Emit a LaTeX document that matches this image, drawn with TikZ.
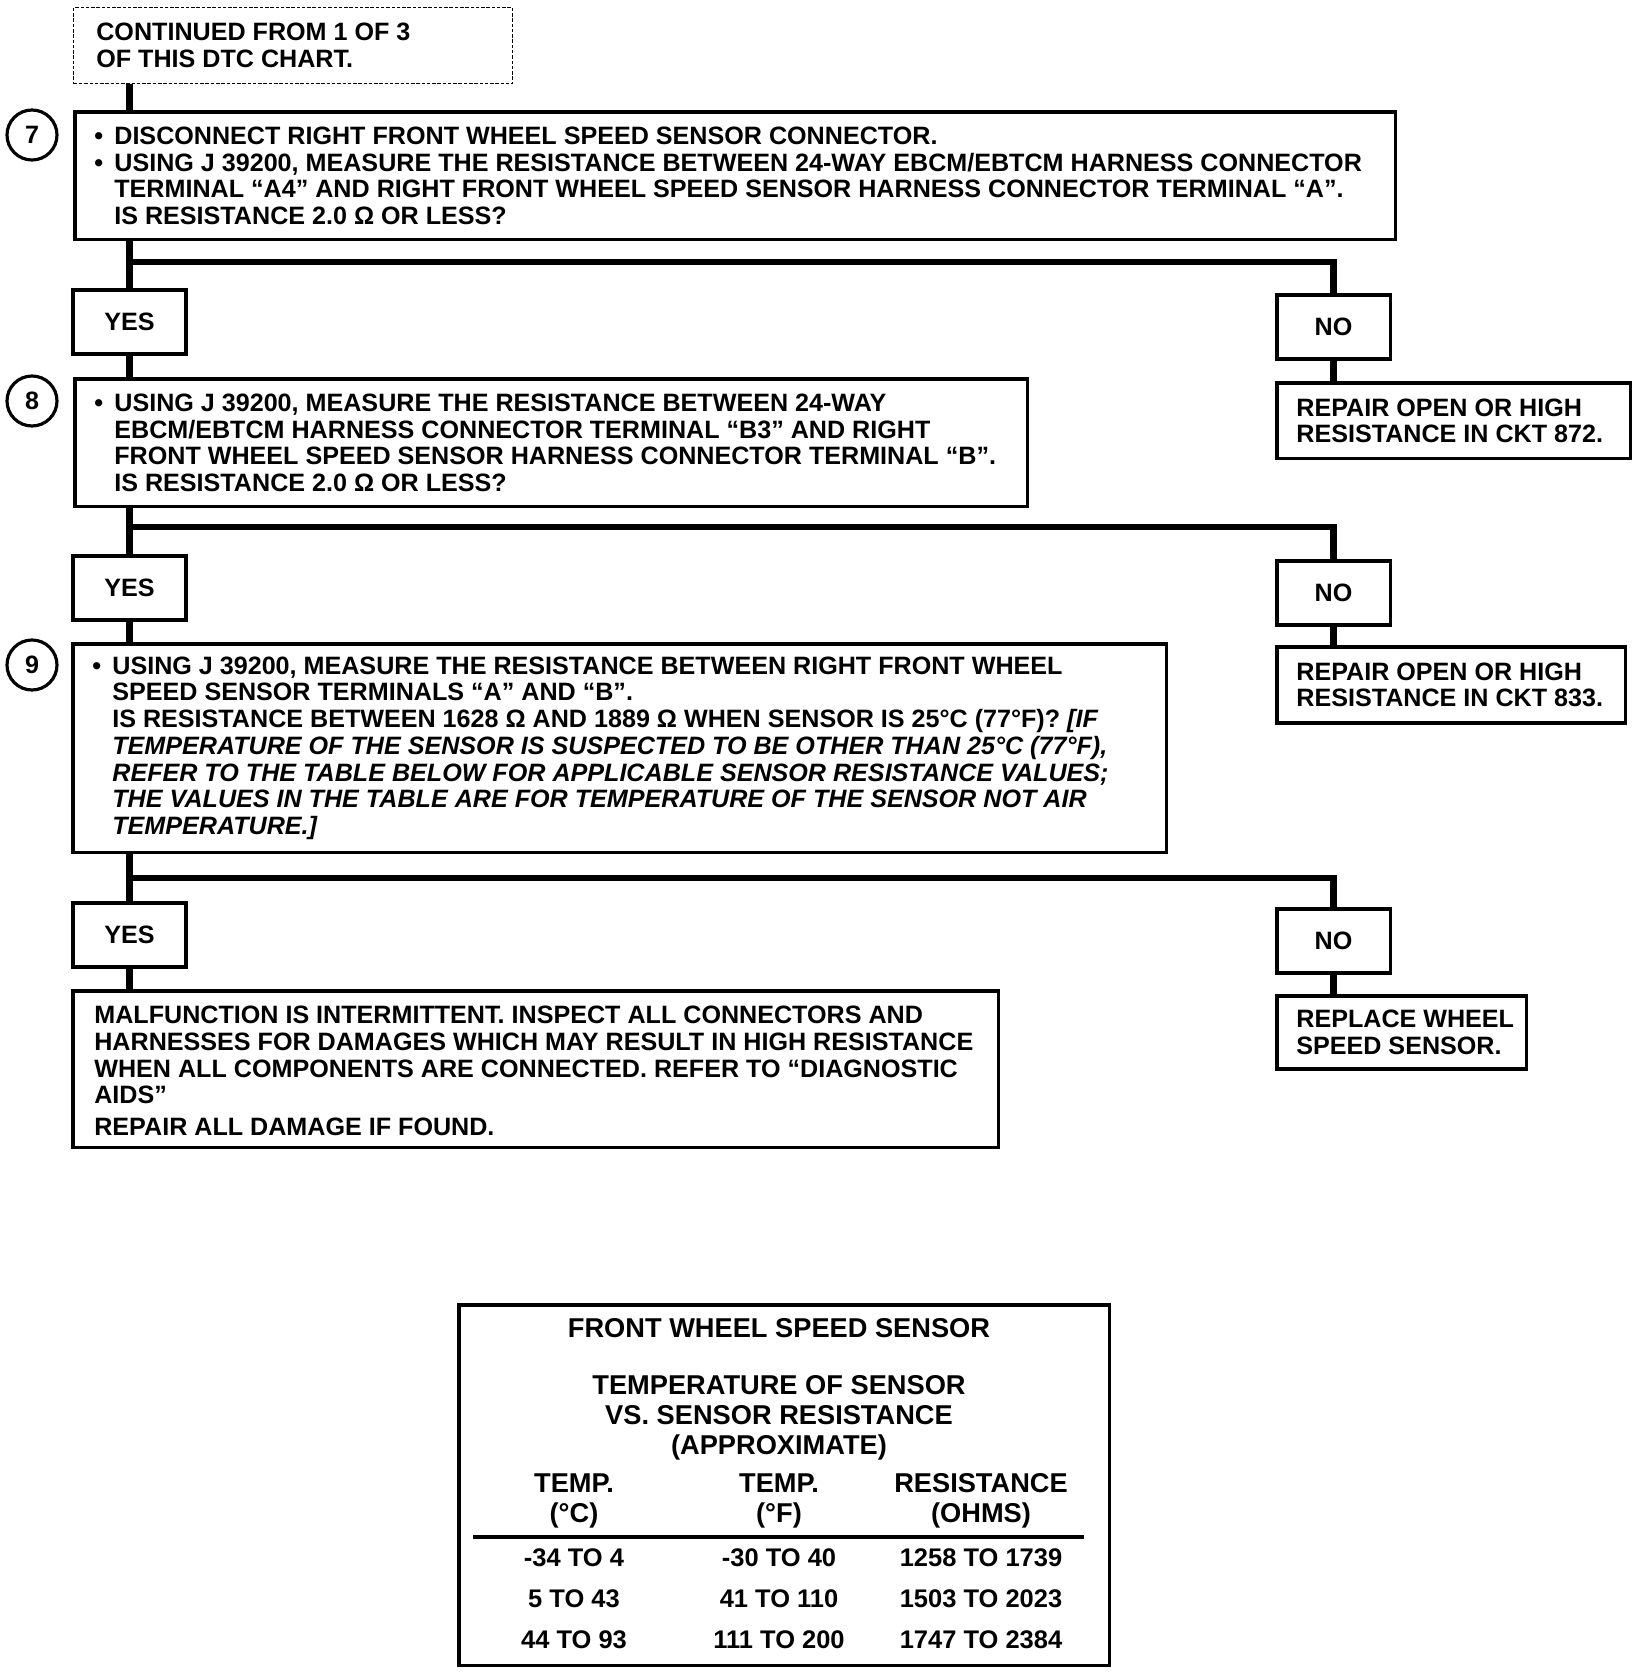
\documentclass[tikz,border=0pt]{standalone}
\usepackage{fontspec}
\setmainfont{Liberation Sans}
\usetikzlibrary{positioning}

\newcommand{\bul}{\makebox[11.4pt][l]{•}}
\newcommand{\indnt}{\hspace*{11.4pt}}

\begin{document}
\begin{tikzpicture}[
  x=0.02cm, y=-0.02cm,
  every node/.style={font=\fontsize{14.3}{15.2}\selectfont\bfseries},
  box/.style={draw,line width=2pt,anchor=north west,inner sep=0pt},
  txt/.style={anchor=west,align=left,inner sep=0pt},
  ans/.style={draw,line width=2pt,anchor=north west,minimum width=2.27cm,minimum height=1.28cm,inner sep=0pt},
  stepno/.style={circle,draw,line width=1.8pt,minimum size=1cm,inner sep=0pt},
  link/.style={line width=3.6pt},
  head/.style={font=\fontsize{15.5}{17}\selectfont\bfseries,align=center},
  cell/.style={font=\fontsize{14.5}{17}\selectfont\bfseries}
]
  \useasboundingbox (0,0) rectangle (1648,1672);

  % step 7
  \node[box,dash pattern=on 2pt off 1pt,line width=0.8pt,minimum width=8.78cm,minimum height=1.52cm] (cont) at (73,7) {};
  \node[txt] (cont-t) at ([xshift=0.46cm]cont.west) {CONTINUED FROM 1 OF 3\\OF THIS DTC CHART.};
  \node[stepno] (s7) at (32,135) {7};
  \node[box,minimum width=26.42cm,minimum height=2.56cm] (chk7) at (73,110) {};
  \node[txt] (chk7-t) at ([xshift=0.42cm]chk7.west)
    {\bul DISCONNECT RIGHT FRONT WHEEL SPEED SENSOR CONNECTOR.\\
     \bul USING J 39200, MEASURE THE RESISTANCE BETWEEN 24-WAY EBCM/EBTCM HARNESS CONNECTOR\\
     \indnt TERMINAL “A4” AND RIGHT FRONT WHEEL SPEED SENSOR HARNESS CONNECTOR TERMINAL “A”.\\
     \indnt IS RESISTANCE 2.0 Ω OR LESS?};
  \node[ans] (yes1) at (71,288) {YES};
  \node[ans] (no1) at (1275,293) {NO};
  \node[box,minimum width=7.08cm,minimum height=1.52cm] (rep1) at (1275,381) {};
  \node[txt] (rep1-t) at ([xshift=0.42cm]rep1.west) {REPAIR OPEN OR HIGH\\RESISTANCE IN CKT 872.};

  % step 8
  \node[stepno] (s8) at (32,401) {8};
  \node[box,minimum width=19.06cm,minimum height=2.56cm] (chk8) at (73,377) {};
  \node[txt] (chk8-t) at ([xshift=0.42cm]chk8.west)
    {\bul USING J 39200, MEASURE THE RESISTANCE BETWEEN 24-WAY\\
     \indnt EBCM/EBTCM HARNESS CONNECTOR TERMINAL “B3” AND RIGHT\\
     \indnt FRONT WHEEL SPEED SENSOR HARNESS CONNECTOR TERMINAL “B”.\\
     \indnt IS RESISTANCE 2.0 Ω OR LESS?};
  \node[ans] (yes2) at (71,554) {YES};
  \node[ans] (no2) at (1275,559) {NO};
  \node[box,minimum width=6.98cm,minimum height=1.52cm] (rep2) at (1275,645) {};
  \node[txt] (rep2-t) at ([xshift=0.42cm]rep2.west) {REPAIR OPEN OR HIGH\\RESISTANCE IN CKT 833.};

  % step 9
  \node[stepno] (s9) at (32,665) {9};
  \node[box,minimum width=21.88cm,minimum height=4.18cm] (chk9) at (71,642) {};
  \node[txt] (chk9-t) at ([xshift=0.42cm]chk9.west)
    {\bul USING J 39200, MEASURE THE RESISTANCE BETWEEN RIGHT FRONT WHEEL\\
     \indnt SPEED SENSOR TERMINALS “A” AND “B”.\\
     \indnt IS RESISTANCE BETWEEN 1628 Ω AND 1889 Ω WHEN SENSOR IS 25°C (77°F)? \textit{[IF}\\
     \indnt\itshape TEMPERATURE OF THE SENSOR IS SUSPECTED TO BE OTHER THAN 25°C (77°F),\\
     \indnt\itshape REFER TO THE TABLE BELOW FOR APPLICABLE SENSOR RESISTANCE VALUES;\\
     \indnt\itshape THE VALUES IN THE TABLE ARE FOR TEMPERATURE OF THE SENSOR NOT AIR\\
     \indnt\itshape TEMPERATURE.]};
  \node[ans] (yes3) at (71,901) {YES};
  \node[ans] (no3) at (1275,907) {NO};
  \node[box,minimum width=18.52cm,minimum height=3.14cm] (fix) at (71,989) {};
  \node[txt] (fix-t) at ([xshift=0.46cm,yshift=-0.04cm]fix.west)
    {MALFUNCTION IS INTERMITTENT. INSPECT ALL CONNECTORS AND\\
     HARNESSES FOR DAMAGES WHICH MAY RESULT IN HIGH RESISTANCE\\
     WHEN ALL COMPONENTS ARE CONNECTED. REFER TO “DIAGNOSTIC\\
     AIDS”\\[3pt]
     REPAIR ALL DAMAGE IF FOUND.};
  \node[box,minimum width=5cm,minimum height=1.46cm] (rep3) at (1275,994) {};
  \node[txt] (rep3-t) at ([xshift=0.42cm]rep3.west) {REPLACE WHEEL\\SPEED SENSOR.};

  \coordinate (j7) at (128,262);
  \coordinate (j8) at (128,527);
  \coordinate (j9) at (128,878);

  \draw[link] (cont.south -| yes1) -- (chk7.north -| yes1);
  \draw[link] (chk7.south -| yes1) -- (yes1.north);
  \draw[link] (j7) -| (no1.north);
  \draw[link] (yes1.south) -- (chk8.north -| yes1);
  \draw[link] (no1.south) -- (rep1.north -| no1);
  \draw[link] (chk8.south -| yes2) -- (yes2.north);
  \draw[link] (j8) -| (no2.north);
  \draw[link] (yes2.south) -- (chk9.north -| yes2);
  \draw[link] (no2.south) -- (rep2.north -| no2);
  \draw[link] (chk9.south -| yes3) -- (yes3.north);
  \draw[link] (j9) -| (no3.north);
  \draw[link] (yes3.south) -- (fix.north -| yes3);
  \draw[link] (no3.south) -- (rep3.north -| no3);

  % resistance table
  \node[box,minimum width=13.02cm,minimum height=7.22cm] (tbl) at (457,1303) {};
  \node[head] (ttl) at (779,1328) {FRONT WHEEL SPEED SENSOR};
  \node[head] (sub) at (779,1418) {TEMPERATURE OF SENSOR\\VS. SENSOR RESISTANCE\\(APPROXIMATE)};
  \node[head] (hc) at (574,1501) {TEMP.\\(°C)};
  \node[head] (hf) at (779,1501) {TEMP.\\(°F)};
  \node[head] (hr) at (981,1501) {RESISTANCE\\(OHMS)};
  \draw[line width=1.8pt] (473,1537) -- (1084,1537);
  \foreach \y/\c/\f/\r in {1558/-34 TO 4/-30 TO 40/1258 TO 1739,
                           1599/5 TO 43/41 TO 110/1503 TO 2023,
                           1640/44 TO 93/111 TO 200/1747 TO 2384}{
    \node[cell] (c\y) at (574,\y) {\c};
    \node[cell] (f\y) at (779,\y) {\f};
    \node[cell] (r\y) at (981,\y) {\r};
  }
\end{tikzpicture}
\end{document}
